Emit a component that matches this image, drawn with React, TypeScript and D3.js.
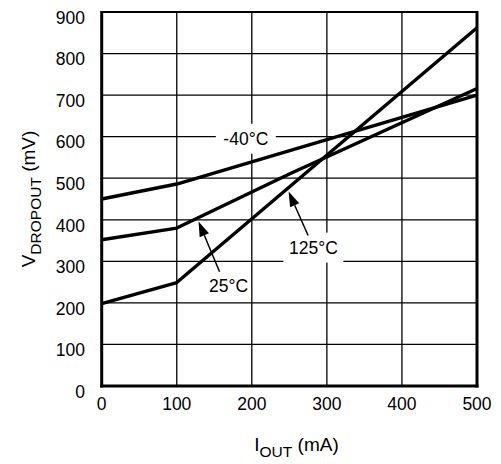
import React from "react";
import * as d3 from "d3";

const xTicks = [0, 100, 200, 300, 400, 500];
const yTicks = [0, 100, 200, 300, 400, 500, 600, 700, 800, 900];

const seriesNames = ["-40°C", "25°C", "125°C"];
const currentM40 = [0, 100, 500];
const dropoutM40 = [450, 486, 700];
const current25 = [0, 100, 250, 500];
const dropout25 = [352, 380, 510, 716];
const current125 = [0, 100, 500];
const dropout125 = [198, 249, 862];

// annotation label centers (data units)
const labelText = ["-40°C", "125°C", "25°C"];
const labelX = [192, 282, 169];
const labelY = [595, 333, 242];
const labelBg = [true, true, false];
// arrows: tail -> tip (data units)
const arrowFromX = [157, 275];
const arrowFromY = [275, 362];
const arrowToX = [129, 249];
const arrowToY = [396, 468];

const W = 501;
const H = 464;
const FONT = "Liberation Sans, Arial, Helvetica, sans-serif";

export default function App() {
  const x = d3.scaleLinear().domain([0, 500]).range([101.7, 477]);
  const y = d3.scaleLinear().domain([0, 900]).range([386, 12]);

  const series = [
    { name: seriesNames[0], xs: currentM40, ys: dropoutM40 },
    { name: seriesNames[1], xs: current25, ys: dropout25 },
    { name: seriesNames[2], xs: current125, ys: dropout125 },
  ];
  const line = d3
    .line<[number, number]>()
    .x((d) => x(d[0]))
    .y((d) => y(d[1]));

  const fs = 17.5;
  const tfs = 19;
  const sfs = 15.5;
  return (
    <svg
      width={W}
      height={H}
      style={{ position: "absolute", left: 0, top: 0, background: "#fff" }}
      fontFamily={FONT}
    >
      <rect x={0} y={0} width={W} height={H} fill="#fff" />
      {/* grid */}
      {xTicks.slice(1, -1).map((t) => (
        <line key={"gx" + t} x1={x(t)} x2={x(t)} y1={y(900)} y2={y(0)} stroke="#000" strokeWidth={1.3} />
      ))}
      {yTicks.slice(1, -1).map((t) => (
        <line key={"gy" + t} x1={x(0)} x2={x(500)} y1={y(t)} y2={y(t)} stroke="#000" strokeWidth={1.3} />
      ))}
      {/* frame */}
      <line x1={x(0)} x2={x(500)} y1={y(900)} y2={y(900)} stroke="#000" strokeWidth={2} />
      <line x1={x(0)} x2={x(0)} y1={y(900) - 1} y2={y(0) + 1.5} stroke="#000" strokeWidth={3} />
      <line x1={x(500)} x2={x(500)} y1={y(900) - 1} y2={y(0) + 1.5} stroke="#000" strokeWidth={3} />
      <line x1={x(0) - 1.5} x2={x(500) + 1.5} y1={y(0)} y2={y(0)} stroke="#000" strokeWidth={3} />
      {/* label backgrounds */}
      {labelText.map((t, i) =>
        labelBg[i] ? (
          <rect
            key={"bg" + i}
            x={x(labelX[i]) - 30}
            y={y(labelY[i]) - 15}
            width={60}
            height={30}
            fill="#fff"
          />
        ) : null
      )}
      {/* data lines */}
      {series.map((s) => (
        <path
          key={s.name}
          d={line(s.xs.map((v, i) => [v, s.ys[i]] as [number, number])) || ""}
          fill="none"
          stroke="#000"
          strokeWidth={3.4}
          strokeLinejoin="round"
        />
      ))}
      {/* labels */}
      {labelText.map((t, i) => (
        <text
          key={"lt" + i}
          x={x(labelX[i])}
          y={y(labelY[i]) + 6.3}
          textAnchor="middle"
          fontSize={fs}
        >
          {t}
        </text>
      ))}
      {/* arrows */}
      {arrowFromX.map((_, i) => {
        const x1 = x(arrowFromX[i]);
        const y1 = y(arrowFromY[i]);
        const x2 = x(arrowToX[i]);
        const y2 = y(arrowToY[i]);
        const dx = x2 - x1;
        const dy = y2 - y1;
        const len = Math.hypot(dx, dy);
        const ux = dx / len;
        const uy = dy / len;
        const hl = 15;
        const hw = 5;
        const bx = x2 - ux * hl;
        const by = y2 - uy * hl;
        const pts = [
          [x2, y2],
          [bx - uy * hw, by + ux * hw],
          [bx + uy * hw, by - ux * hw],
        ];
        return (
          <g key={"ar" + i}>
            <line x1={x1} y1={y1} x2={bx} y2={by} stroke="#000" strokeWidth={1.5} />
            <polygon points={pts.map((p) => p.join(",")).join(" ")} fill="#000" />
          </g>
        );
      })}
      {/* x tick labels */}
      {xTicks.map((t) => (
        <text key={"xt" + t} x={x(t)} y={410} textAnchor="middle" fontSize={fs}>
          {t}
        </text>
      ))}
      {/* y tick labels */}
      {yTicks.map((t) => (
        <text key={"yt" + t} x={85} y={y(t) + 11.8} textAnchor="end" fontSize={fs}>
          {t}
        </text>
      ))}
      {/* x title */}
      <text x={296.5} y={451} textAnchor="middle" fontSize={tfs}>
        I
        <tspan fontSize={sfs} dy={6}>OUT</tspan>
        <tspan dy={-6}> (mA)</tspan>
      </text>
      {/* y title */}
      <text
        transform={`translate(34.5, ${(y(0) + y(900)) / 2}) rotate(-90)`}
        textAnchor="middle"
        fontSize={tfs}
      >
        V
        <tspan fontSize={sfs} dy={6}>DROPOUT</tspan>
        <tspan dy={-6}> (mV)</tspan>
      </text>
    </svg>
  );
}
